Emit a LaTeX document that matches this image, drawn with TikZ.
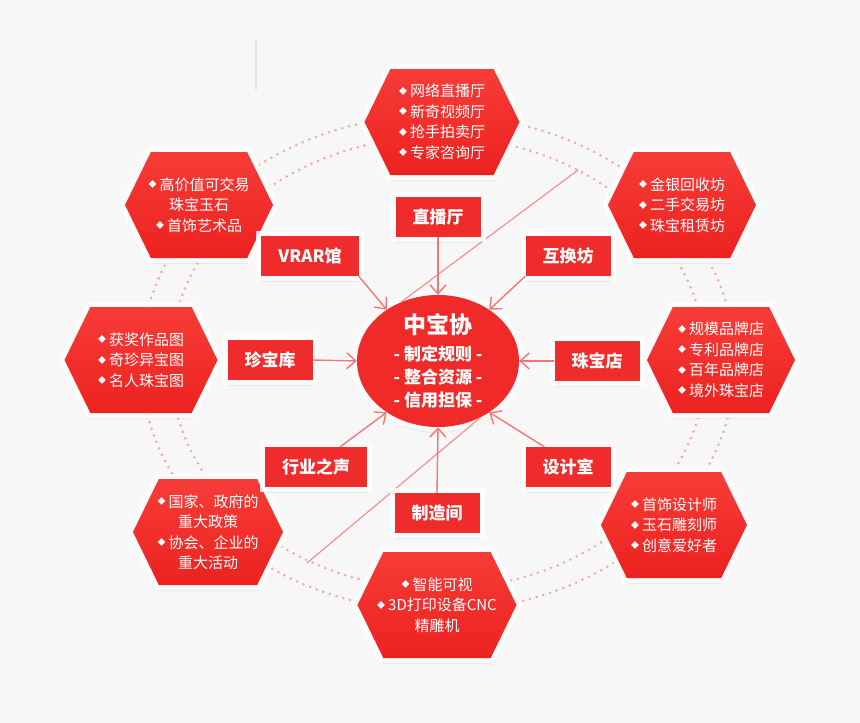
\documentclass[tikz,border=0pt]{standalone}
\usepackage{fontspec}
\setmainfont{Noto Sans CJK SC}
\usepackage{tikz}
\usetikzlibrary{shapes.symbols,shapes.geometric,arrows.meta,shadows}

\definecolor{paper}{RGB}{247,247,247}
\definecolor{hextop}{RGB}{247,60,55}
\definecolor{hexbot}{RGB}{236,34,32}
\definecolor{tagred}{RGB}{239,44,43}
\definecolor{hubred}{RGB}{240,42,40}
\definecolor{feedred}{RGB}{243,118,116}
\definecolor{ringpink}{RGB}{246,165,163}

\newcommand{\dia}{\raisebox{2.5pt}{\fontsize{8}{8}\selectfont ◆}\hspace{3pt}}

\tikzset{
  halo/.style={drop shadow={shadow xshift=0pt,shadow yshift=-6pt,opacity=.12},
    preaction={draw=white,line width=10pt,opacity=.8}},
  hexbox/.style={shape=signal,signal to=west and east,signal pointer angle=128,
    minimum height=106,inner sep=0pt,top color=hextop,bottom color=hexbot,halo},
  hextext/.style={text=white,align=center,font=\fontsize{15}{20.5}\selectfont},
  tagbox/.style={rectangle,fill=tagred,text=white,minimum height=40,inner xsep=17,
    inner ysep=0pt,font=\bfseries\fontsize{17}{20}\selectfont,halo},
  hubbox/.style={ellipse,minimum width=162,minimum height=132,fill=hubred,halo},
  hubtext/.style={text=white,align=center,font=\bfseries\fontsize{17}{23}\selectfont},
  ring/.style={draw=ringpink,line width=2.8pt,line cap=round,dash pattern=on 0pt off 7pt},
  beam/.style={draw=feedred!80,line width=1.2pt},
  feed/.style={draw=feedred,line width=1.4pt,-{Straight Barb[length=9pt,width=16pt]}}
}

\begin{document}
\begin{tikzpicture}[x=1pt,y=-1pt]
\fill[paper] (0,0) rectangle (860,723);
\useasboundingbox (0,0) rectangle (860,723);
\draw[gray!22,line width=1.2pt] (256,40) -- (256,90);

\coordinate (mid) at (438,363);
\draw[ring] (mid) ellipse [x radius=297,y radius=248];
\draw[ring] (mid) ellipse [x radius=268,y radius=226];

\foreach \nm/\x/\y/\hw/\txt in {
  top/442/122/155/\dia 网络直播厅\\\dia 新奇视频厅\\\dia 抢手拍卖厅\\\dia 专家咨询厅,
  ul/199/205/148/\dia 高价值可交易\\珠宝玉石\\\dia 首饰艺术品,
  ur/682/205/148/\dia 金银回收坊\\\dia 二手交易坊\\\dia 珠宝租赁坊,
  lft/141/360/153/\dia 获奖作品图\\\dia 奇珍异宝图\\\dia 名人珠宝图,
  rgt/721/360/148/\dia 规模品牌店\\\dia 专利品牌店\\\dia 百年品牌店\\\dia 境外珠宝店,
  ll/208/532/150/\dia 国家、政府的\\重大政策\\\dia 协会、企业的\\重大活动,
  lr/674/525/146/\dia 首饰设计师\\\dia 玉石雕刻师\\\dia 创意爱好者,
  bot/437/605/159/\dia 智能可视\\\dia 3D打印设备CNC\\精雕机}
{
  \node[hexbox,minimum width=\hw] (\nm) at (\x,\y) {};
  \node[hextext] (\nm txt) at (\nm) {\txt};
}

\node[hubbox] (zbx) at (438,361) {};

\coordinate (diagA) at (578,170);
\coordinate (diagB) at (307,563);
\draw[beam] (diagA) -- (zbx.122);
\draw[beam] (diagB) -- (zbx.-53);

\foreach \nm/\x/\y/\txt in {zbt/438/217/直播厅, vrar/310/256/VRAR馆, hhf/568/256/互换坊,
  zbk/270/360/珍宝库, zbd/597/361/珠宝店, hyzs/316/467/行业之声,
  sjs/568/467/设计室, zzj/437/513/制造间}
  \node[tagbox] (\nm) at (\x,\y) {\txt};
\coordinate (hyzsout) at ([xshift=-27pt]hyzs.north east);
\coordinate (sjsout) at ([xshift=19pt]sjs.north west);

\foreach \src/\dst in {zbt.south/zbx.north, vrar.south east/zbx.135, hhf.south west/zbx.45,
  zbk.east/zbx.west, zbd.west/zbx.east, hyzsout/zbx.-135,
  sjsout/zbx.-45, zzj.north/zbx.south}
  \draw[feed] (\src) -- (\dst);

\node[hubtext] (zbxtxt) at (zbx) {{\fontsize{23}{23}\selectfont 中宝协}\\[4pt]- 制定规则 -\\- 整合资源 -\\- 信用担保 -};
\end{tikzpicture}
\end{document}
